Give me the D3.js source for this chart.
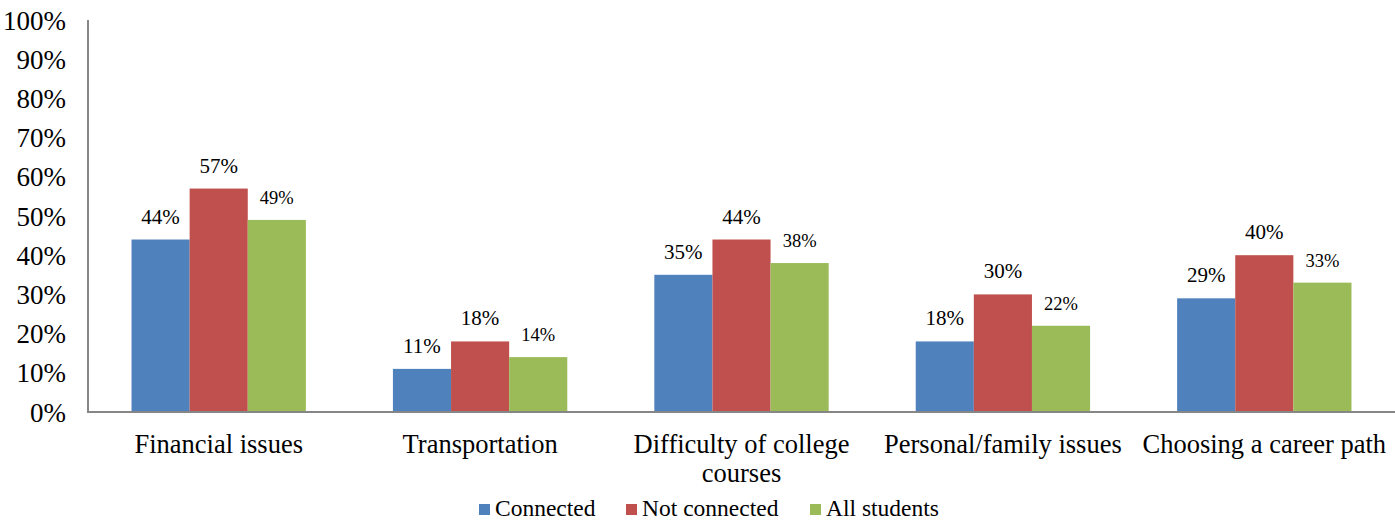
<!DOCTYPE html>
<html>
<head>
<meta charset="utf-8">
<script src="https://cdn.jsdelivr.net/npm/d3@7"></script>
<style>
  html, body { margin: 0; padding: 0; background: #fff; }
  svg { display: block; }
  text { font-family: "Liberation Serif", "Times New Roman", serif; fill: #000; }
</style>
</head>
<body>
<svg id="chart" width="1395" height="521"></svg>
<script>
// Barriers to college persistence, by connection status
const categories = [
  ["Financial issues"],
  ["Transportation"],
  ["Difficulty of college", "courses"],
  ["Personal/family issues"],
  ["Choosing a career path"]
];
const seriesNames = ["Connected", "Not connected", "All students"];
const connected    = [44, 11, 35, 18, 29];
const notConnected = [57, 18, 44, 30, 40];
const allStudents  = [49, 14, 38, 22, 33];
const yTicks = [0, 10, 20, 30, 40, 50, 60, 70, 80, 90, 100];
const colors = ["#4F81BD", "#C0504D", "#9BBB59"];

const series = [connected, notConnected, allStudents];

const svg = d3.select("#chart");
const margin = { left: 88, right: 0, top: 20, bottom: 109 };
const W = 1395, H = 521;
const plotBottom = H - margin.bottom; // 412

const x0 = d3.scaleBand()
  .domain(d3.range(categories.length))
  .range([margin.left, W - margin.right])
  .paddingInner(0.333)
  .paddingOuter(0.1665);

const x1 = d3.scaleBand()
  .domain(d3.range(series.length))
  .range([0, x0.bandwidth()]);

const y = d3.scaleLinear().domain([0, 100]).range([plotBottom, margin.top]);

// Y axis tick labels
const yAxis = d3.axisLeft(y).tickValues(yTicks).tickFormat(d => d + "%").tickSize(0).tickPadding(22);
const gy = svg.append("g").attr("transform", `translate(${margin.left},0)`).call(yAxis);
gy.select(".domain").remove();
gy.selectAll("text")
  .style("font-family", "'Liberation Serif', 'Times New Roman', serif")
  .style("font-size", "27px")
  .attr("dy", "0.34em")
  .attr("fill", "#000");

// Bars
const groups = svg.append("g").selectAll("g")
  .data(categories.map((c, i) => i))
  .join("g")
  .attr("transform", i => `translate(${x0(i)},0)`);

groups.selectAll("rect")
  .data(i => series.map((s, k) => ({ k, v: s[i] })))
  .join("rect")
  .attr("x", d => x1(d.k))
  .attr("width", x1.bandwidth())
  .attr("y", d => y(d.v))
  .attr("height", d => plotBottom - y(d.v))
  .attr("fill", d => colors[d.k]);

// Value labels
groups.selectAll("text.val")
  .data(i => series.map((s, k) => ({ k, v: s[i] })))
  .join("text")
  .attr("class", "val")
  .attr("x", d => x1(d.k) + x1.bandwidth() / 2)
  .attr("y", d => y(d.v) - 16)
  .attr("text-anchor", "middle")
  .style("font-size", d => d.k === 2 ? "18.5px" : "21px")
  .text(d => d.v + "%");

// Axis lines
svg.append("line")
  .attr("x1", margin.left).attr("x2", margin.left)
  .attr("y1", margin.top).attr("y2", plotBottom)
  .attr("stroke", "#868686").attr("stroke-width", 2);
svg.append("line")
  .attr("x1", margin.left - 1).attr("x2", W)
  .attr("y1", plotBottom).attr("y2", plotBottom)
  .attr("stroke", "#868686").attr("stroke-width", 2);

// Category labels
const catLabels = svg.append("g").selectAll("text")
  .data(categories.map((c, i) => ({ c, i })))
  .join("text")
  .attr("x", d => x0(d.i) + x0.bandwidth() / 2)
  .attr("y", 453)
  .attr("text-anchor", "middle")
  .style("font-size", "26.5px");
catLabels.selectAll("tspan")
  .data(d => d.c.map((line, j) => ({ line, j, x: x0(d.i) + x0.bandwidth() / 2 })))
  .join("tspan")
  .attr("x", d => d.x)
  .attr("dy", d => d.j === 0 ? 0 : 29)
  .text(d => d.line);

// Legend
const legendX = [479, 626, 810];
const legend = svg.append("g").selectAll("g")
  .data(seriesNames.map((n, k) => ({ n, k })))
  .join("g")
  .attr("transform", d => `translate(${legendX[d.k]},0)`);
legend.append("rect")
  .attr("x", 0).attr("y", 504)
  .attr("width", 11).attr("height", 11)
  .attr("fill", d => colors[d.k]);
legend.append("text")
  .attr("x", 16).attr("y", 516)
  .style("font-size", "23.5px")
  .text(d => d.n);
</script>
</body>
</html>
